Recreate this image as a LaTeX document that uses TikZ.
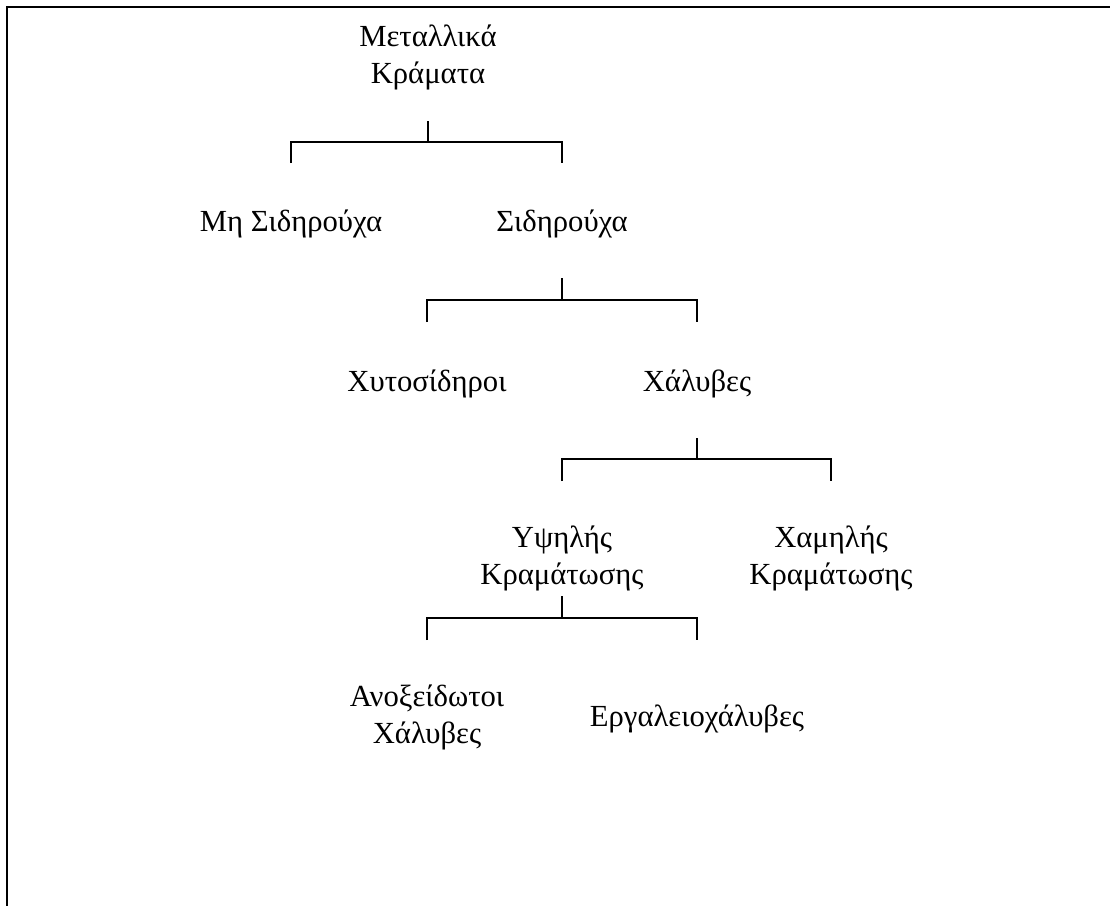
\documentclass[tikz,border=0pt]{standalone}
\usepackage{fontspec}
\setmainfont{Liberation Serif}
\begin{document}
\begin{tikzpicture}[x=0.75pt,y=-0.75pt,
  lbl/.style={align=center,inner sep=0pt,font=\fontsize{23}{27.75}\selectfont},
  conn/.style={line width=1.7pt,black}]
\useasboundingbox (0,0) rectangle (1110,906);
\draw[line width=1.6pt] (7,906) -- (7,7) -- (1110,7);
% nodes
\node[lbl] (root) at (428,57) {Μεταλλικά\\Κράματα};
\node[lbl] (mh) at (291,224) {Μη Σιδηρούχα};
\node[lbl] (sid) at (562,224) {Σιδηρούχα};
\node[lbl] (xyt) at (427,384) {Χυτοσίδηροι};
\node[lbl] (xal) at (697,384) {Χάλυβες};
\node[lbl] (ypsi) at (562,558) {Υψηλής\\Κραμάτωσης};
\node[lbl] (xam) at (831,558) {Χαμηλής\\Κραμάτωσης};
\node[lbl] (anox) at (427,717) {Ανοξείδωτοι\\Χάλυβες};
\node[lbl] (erg) at (697,719) {Εργαλειοχάλυβες};
% junctions
\coordinate (j1) at (root |- 0,142);
\coordinate (j2) at (sid |- 0,300);
\coordinate (j3) at (xal |- 0,459);
\coordinate (j4) at (ypsi |- 0,618);
% connectors
\draw[conn] (root.south |- 0,121) -- (j1);
\draw[conn] (mh |- 0,163) -- (mh |- j1) -- (sid |- j1) -- (sid |- 0,163);
\draw[conn] (sid |- 0,278) -- (j2);
\draw[conn] (xyt |- 0,322) -- (xyt |- j2) -- (xal |- j2) -- (xal |- 0,322);
\draw[conn] (xal |- 0,438) -- (j3);
\draw[conn] (ypsi |- 0,481) -- (ypsi |- j3) -- (xam |- j3) -- (xam |- 0,481);
\draw[conn] (ypsi |- 0,596) -- (j4);
\draw[conn] (anox |- 0,640) -- (anox |- j4) -- (erg |- j4) -- (erg |- 0,640);
\end{tikzpicture}
\end{document}
